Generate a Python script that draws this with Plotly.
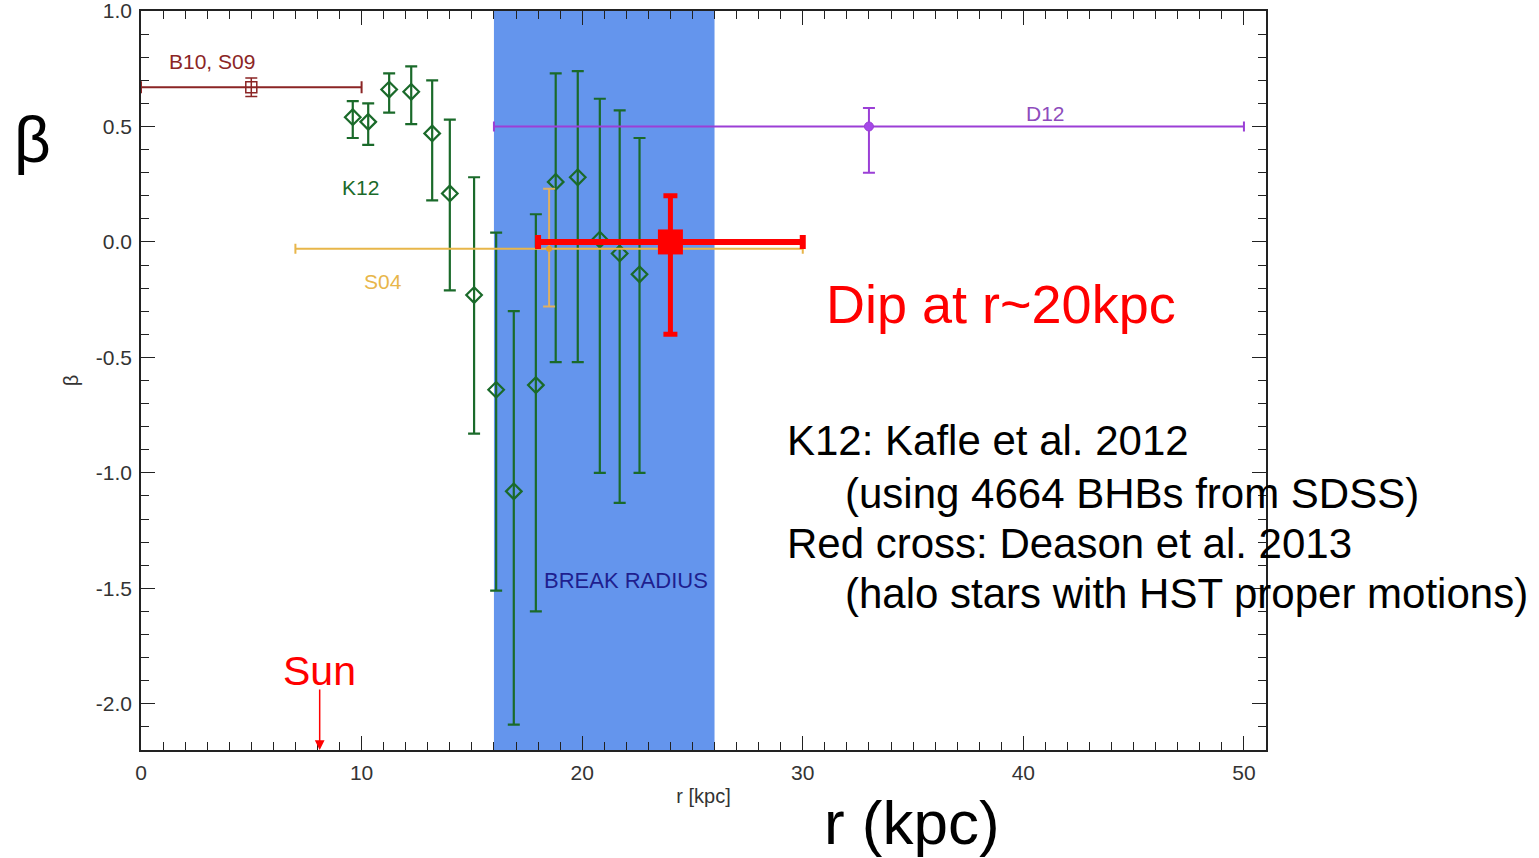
import plotly.graph_objects as go

# ---------------- data ----------------
# K12: Kafle et al. 2012
k12_r = [9.6, 10.3, 11.25, 12.25, 13.2, 14.0, 15.1, 16.1, 16.9, 17.9, 18.8, 19.8, 20.8, 21.7, 22.6]
k12_beta = [0.54, 0.52, 0.66, 0.65, 0.47, 0.21, -0.23, -0.64, -1.08, -0.62, 0.26, 0.28, 0.01, -0.05, -0.14]
k12_err_plus = [0.07, 0.08, 0.07, 0.11, 0.23, 0.32, 0.51, 0.68, 0.78, 0.74, 0.47, 0.46, 0.61, 0.62, 0.59]
k12_err_minus = [0.09, 0.10, 0.10, 0.14, 0.29, 0.42, 0.60, 0.87, 1.01, 0.98, 0.78, 0.80, 1.01, 1.08, 0.86]

# B10, S09
b10_r = [5.0]
b10_beta = [0.67]
b10_rerr = [5.0]
b10_berr = [0.04]

# S04
s04_r = [18.5]
s04_beta = [-0.03]
s04_rerr_plus = [11.5]
s04_rerr_minus = [11.5]
s04_berr_plus = [0.26]
s04_berr_minus = [0.25]

# D12
d12_r = [33.0]
d12_beta = [0.50]
d12_rerr = [17.0]
d12_berr_plus = [0.08]
d12_berr_minus = [0.20]

# Deason et al. 2013 (red cross)
dea_r = [24.0]
dea_beta = [0.0]
dea_rerr = [6.0]
dea_berr_plus = [0.20]
dea_berr_minus = [0.40]

# break radius band
break_r = [16.0, 26.0]
sun_r = 8.1

x_ticks = [0, 10, 20, 30, 40, 50]
y_ticks = [-2.0, -1.5, -1.0, -0.5, 0.0, 0.5, 1.0]
x_ticktext = [str(v) for v in x_ticks]
y_ticktext = [f"{v:.1f}" for v in y_ticks]

# ---------------- colours ----------------
GREEN = "#1a6a2a"
DRED = "#8b2525"
GOLD = "#e8b64a"
PURPLE = "#9b3fd6"
RED = "#ff0000"
BAND = "#6495ed"

fig = go.Figure()

fig.add_shape(type="rect", xref="x", yref="paper", x0=break_r[0], x1=break_r[1], y0=0, y1=1,
              fillcolor=BAND, line=dict(width=0), layer="below")

fig.add_trace(go.Scatter(
    x=k12_r, y=k12_beta, mode="markers",
    marker=dict(symbol="diamond-open", size=12, color=GREEN, line=dict(width=2.2, color=GREEN)),
    error_y=dict(type="data", symmetric=False, array=k12_err_plus, arrayminus=k12_err_minus,
                 color=GREEN, thickness=2.2, width=6),
    showlegend=False))

fig.add_trace(go.Scatter(
    x=s04_r, y=s04_beta, mode="markers",
    marker=dict(symbol="circle", size=6, color="#e0a030"),
    error_x=dict(type="data", symmetric=False, array=s04_rerr_plus, arrayminus=s04_rerr_minus,
                 color=GOLD, thickness=2, width=5),
    error_y=dict(type="data", symmetric=False, array=s04_berr_plus, arrayminus=s04_berr_minus,
                 color="#e0b060", thickness=2, width=6),
    showlegend=False))

fig.add_trace(go.Scatter(
    x=b10_r, y=b10_beta, mode="markers",
    marker=dict(symbol="square-open", size=11, color=DRED, line=dict(width=1.5, color=DRED)),
    error_x=dict(type="data", array=b10_rerr, color=DRED, thickness=2, width=6),
    error_y=dict(type="data", array=b10_berr, color=DRED, thickness=1.5, width=6),
    showlegend=False))

fig.add_trace(go.Scatter(
    x=d12_r, y=d12_beta, mode="markers",
    marker=dict(symbol="circle", size=9, color="#a548e8", line=dict(width=1, color=PURPLE)),
    error_x=dict(type="data", array=d12_rerr, color=PURPLE, thickness=2, width=5),
    error_y=dict(type="data", symmetric=False, array=d12_berr_plus, arrayminus=d12_berr_minus,
                 color=PURPLE, thickness=2, width=6),
    showlegend=False))

fig.add_trace(go.Scatter(
    x=dea_r, y=dea_beta, mode="markers",
    marker=dict(symbol="square", size=25, color=RED),
    error_x=dict(type="data", array=dea_rerr, color=RED, thickness=6, width=7),
    error_y=dict(type="data", symmetric=False, array=dea_berr_plus, arrayminus=dea_berr_minus,
                 color=RED, thickness=5, width=7),
    showlegend=False))

# ---------------- layout helpers ----------------
L, R, T, B = 141, 1266, 11, 750
W, H = 1539, 858


def px(xp):
    return (xp - L) / (R - L)


def py(yp):
    return (B - yp) / (B - T)


SANS = "Liberation Sans, Arial, sans-serif"
ann = []


def label(x, y, text, color, size, xref="x", yref="y", xanchor="center"):
    ann.append(dict(x=x, y=y, xref=xref, yref=yref, text=text, showarrow=False,
                    xanchor=xanchor, yanchor="middle",
                    font=dict(family=SANS, size=size, color=color)))


label(3.2, 0.78, "B10, S09", DRED, 21)
label(9.97, 0.235, "K12", GREEN, 21)
label(10.97, -0.17, "S04", GOLD, 21)
label(41.0, 0.555, "D12", "#8e4cbc", 21)
label(22.0, -1.465, "BREAK RADIUS", "#1f1f8f", 22)
label(38.98, -0.268, "Dip at r~20kpc", RED, 54)
label(sun_r, -1.86, "Sun", RED, 41)

label(px(32), py(140), "β", "black", 64, xref="paper", yref="paper")
label(px(912), py(822), "r (kpc)", "black", 62, xref="paper", yref="paper")
label(px(785), py(441), "K12: Kafle et al. 2012", "black", 42, xref="paper", yref="paper", xanchor="left")
label(px(843), py(493), "(using 4664 BHBs from SDSS)", "black", 42, xref="paper", yref="paper", xanchor="left")
label(px(785), py(543), "Red cross: Deason et al. 2013", "black", 42, xref="paper", yref="paper", xanchor="left")
label(px(843), py(593), "(halo stars with HST proper motions)", "black", 42, xref="paper", yref="paper", xanchor="left")

ann.append(dict(x=sun_r, y=-2.2, xref="x", yref="y", text="", showarrow=True,
                ax=0, ay=-62, arrowhead=2, arrowsize=1.3, arrowwidth=1.5, arrowcolor=RED,
                standoff=0))

axis_common = dict(showgrid=False, zeroline=False, showline=True, linecolor="#222", linewidth=1.5,
                   mirror="allticks", ticks="inside", tickcolor="#222", tickwidth=1.2,
                   ticklabelstandoff=3, automargin=False, ticklabeloverflow="allow",
                   tickfont=dict(family=SANS, size=21, color="#333"))

fig.update_layout(
    width=W, height=H,
    margin=dict(l=L, r=W - R, t=T, b=H - B, pad=0, autoexpand=False),
    paper_bgcolor="white", plot_bgcolor="white",
    xaxis=dict(range=[0, 51], tickvals=x_ticks, ticktext=x_ticktext, ticklen=14,
               minor=dict(dtick=1, tick0=0, ticks="inside", ticklen=8, tickcolor="#222", tickwidth=1),
               title=dict(text="r [kpc]", font=dict(family=SANS, size=20, color="#333"), standoff=6),
               **axis_common),
    yaxis=dict(range=[-2.2, 1.0], tickvals=y_ticks, ticktext=y_ticktext, ticklen=14,
               minor=dict(dtick=0.1, tick0=0, ticks="inside", ticklen=8, tickcolor="#222", tickwidth=1),
               title=dict(text="β", font=dict(family=SANS, size=20, color="#333"), standoff=12),
               **axis_common),
    annotations=ann,
    showlegend=False,
)

post = ("document.body.style.margin='0';document.body.style.padding='0';"
        "var gd=document.getElementById('{plot_id}');"
        "gd.style.position='absolute';gd.style.left='0px';gd.style.top='0px';")

fig.write_html("out.html", post_script=post, config=dict(displayModeBar=False))
